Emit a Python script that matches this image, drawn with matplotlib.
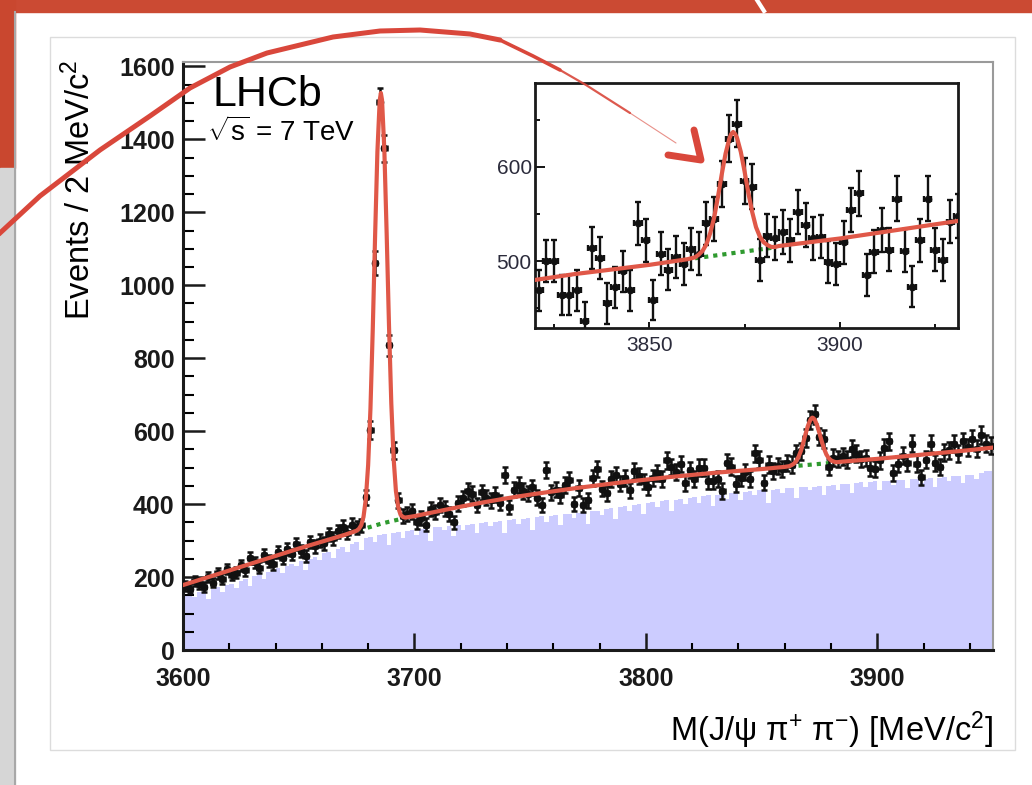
import numpy as np
import matplotlib.pyplot as plt
from matplotlib.lines import Line2D
from matplotlib.patches import Rectangle
from matplotlib.transforms import Affine2D

plt.rcParams['font.family'] = ['Liberation Sans', 'DejaVu Sans']
plt.rcParams['mathtext.fontset'] = 'custom'
plt.rcParams['mathtext.rm'] = 'Liberation Sans'
plt.rcParams['mathtext.it'] = 'Liberation Sans:italic'
plt.rcParams['mathtext.bf'] = 'Liberation Sans:bold'

# J/psi pi+ pi- mass, 2 MeV bins, centres 3601 ... 3949
mass = np.arange(3601, 3950, 2)
edges = np.arange(3600, 3951, 2)

events = [
    175, 168, 190, 180, 172, 200, 185, 210, 196, 222,
    205, 212, 232, 218, 252, 240, 226, 260, 244, 236,
    268, 252, 278, 262, 290, 272, 258, 296, 284, 300,
    292, 318, 306, 326, 338, 322, 344, 336, 342, 419,
    603, 1060, 1501, 1375, 836, 548, 410, 368, 372, 380,
    350, 362, 344, 386, 378, 398, 388, 372, 350, 402,
    416, 436, 428, 398, 432, 418, 410, 425, 404, 480,
    392, 440, 452, 436, 428, 446, 418, 398, 493, 432,
    440, 424, 452, 466, 400, 444, 398, 410, 472, 496,
    442, 430, 468, 480, 456, 472, 438, 490, 478, 462,
    446, 472, 484, 468, 520, 502, 488, 510, 458, 494,
    469, 500, 500, 464, 464, 469, 436, 514, 503, 455,
    472, 489, 469, 540, 522, 459, 508, 491, 504, 497,
    513, 508, 540, 545, 582, 630, 646, 585, 579, 501,
    527, 524, 531, 522, 552, 538, 524, 526, 499, 497,
    520, 554, 572, 485, 510, 533, 512, 566, 511, 473,
    522, 566, 512, 501, 542,
    548, 566, 540, 572, 556, 578, 552, 590, 566, 560,
]

# background sample (blue histogram)
bkg_hist = [
    150, 156, 146, 160, 164, 141, 168, 172, 158, 178,
    182, 170, 190, 196, 176, 202, 208, 194, 214, 220,
    226, 212, 230, 236, 229, 244, 218, 250, 256, 246,
    266, 270, 252, 278, 282, 270, 290, 296, 274, 306,
    310, 296, 314, 318, 288, 320, 324, 306, 326, 330,
    316, 332, 334, 300, 336, 338, 328, 340, 312, 342,
    328, 344, 346, 322, 348, 350, 340, 352, 354, 322,
    356, 358, 346, 360, 362, 330, 364, 366, 352, 368,
    370, 344, 372, 374, 362, 376, 378, 346, 380, 382,
    370, 386, 388, 360, 392, 394, 380, 398, 400, 372,
    404, 406, 392, 408, 410, 382, 412, 414, 400, 418,
    420, 402, 422, 424, 396, 426, 428, 414, 430, 432,
    410, 434, 436, 424, 438, 438, 404, 440, 442, 430,
    443, 444, 416, 446, 447, 438, 448, 449, 426, 450,
    452, 440, 454, 456, 430, 458, 460, 448, 461, 462,
    440, 463, 464, 452, 466, 467, 444, 468, 469, 458,
    470, 471, 446, 472, 474, 464, 476, 477, 458, 479,
    481, 468, 486, 490, 492,
]

# total fit curve
fit_x = [3600, 3610, 3620, 3630, 3640, 3650, 3660, 3670, 3675,
         3676, 3677, 3678, 3679, 3680, 3681, 3682, 3683, 3684, 3685, 3685.5,
         3686, 3687, 3688, 3689, 3690, 3691, 3692, 3693, 3694, 3695, 3696,
         3700, 3710, 3720, 3730, 3740, 3750, 3760, 3770, 3780, 3790, 3800,
         3810, 3820, 3830, 3840, 3850,
         3860, 3861, 3862, 3863, 3864, 3865, 3866, 3867, 3868, 3869, 3870,
         3871, 3871.5, 3872, 3872.5, 3873, 3874, 3875, 3876, 3877, 3878, 3879,
         3880, 3881, 3882, 3883, 3884,
         3890, 3900, 3910, 3920, 3930, 3940, 3950]
fit_y = [178, 198, 218, 238, 258, 278, 297, 316, 327,
         332, 342, 365, 414, 507, 662, 880, 1134, 1366, 1507, 1527,
         1508, 1371, 1142, 892, 677, 526, 436, 391, 371, 365, 363,
         367, 380, 393, 405, 416, 426, 435, 444, 452, 460, 467,
         474, 480, 486, 491, 496,
         502, 503, 504, 507, 511, 518, 530, 546, 568, 592, 614,
         630, 635, 637, 635, 631, 616, 595, 572, 552, 536, 526,
         520, 517, 515, 515, 516,
         519, 524, 530, 536, 542, 548, 555]

# background component under the two peaks
psi_bkg_x = [3676, 3686, 3696]
psi_bkg_y = [328, 347, 362]
x_bkg_x = [3862, 3882]
x_bkg_y = [503, 514]

fig = plt.figure(figsize=(10.32, 7.85), dpi=100)
px = Affine2D().scale(1 / 1032, -1 / 785).translate(0, 1) + fig.transFigure

# slide background around the figure
fig.add_artist(Rectangle((0, 0), 1032, 12, transform=px, color='#cb4a33', zorder=-5))
fig.add_artist(Rectangle((0, 0), 15, 168, transform=px, color='#c9472f', zorder=-5))
fig.add_artist(Rectangle((0, 168), 15, 617, transform=px, color='#d6d6d6', zorder=-5))
fig.add_artist(Line2D([15, 15], [12, 785], transform=px, color='#a8a8a8', lw=1.5, zorder=-4))
fig.add_artist(Line2D([757, 764], [0, 11], transform=px, color='white', lw=3, zorder=-4))
fig.add_artist(Rectangle((50, 37), 965, 713, transform=px, fill=False, ec='#dcdcdc', lw=1, zorder=-4))

# main plot
ax = fig.add_axes([183 / 1032, 1 - 650 / 785, 810 / 1032, 588 / 785])
ax.stairs(bkg_hist, edges, fill=True, color='#ccccff', lw=0, zorder=1)
ax.plot(psi_bkg_x, psi_bkg_y, color='#2f9a2f', ls=(0, (1, 1.2)), lw=3, zorder=3)
ax.plot(x_bkg_x, x_bkg_y, color='#2f9a2f', ls=(0, (1, 1.2)), lw=3, zorder=3)
ax.errorbar(mass, events, yerr=np.sqrt(events), xerr=1, fmt='o', ms=4.5, color='#111111',
            elinewidth=1.8, capsize=2, capthick=1.8, zorder=4)
ax.plot(fit_x, fit_y, color='#e05848', lw=3, zorder=5, solid_joinstyle='round')

ax.set_xlim(3600, 3950)
ax.set_ylim(0, 1612)
ax.set_xticks([3600, 3700, 3800, 3900], ['3600', '3700', '3800', '3900'], fontweight='bold')
ax.set_xticks(np.arange(3620, 3950, 20), minor=True)
ax.set_yticks(np.arange(0, 1601, 200), [str(v) for v in range(0, 1601, 200)], fontweight='bold')
ax.set_yticks(np.arange(0, 1601, 50), minor=True)
ax.tick_params(axis='y', which='major', direction='in', length=16, width=1.8, labelsize=18, pad=6)
ax.tick_params(axis='y', which='minor', direction='in', length=8, width=1.5)
ax.tick_params(axis='x', which='major', direction='in', length=12, width=1.8, labelsize=18, pad=12)
ax.tick_params(axis='x', which='minor', direction='in', length=5, width=1.5)
ax.tick_params(colors='#1a1a1a')
for s in ['left', 'bottom']:
    ax.spines[s].set_linewidth(2.2)
    ax.spines[s].set_color('#1a1a1a')
for s in ['top', 'right']:
    ax.spines[s].set_linewidth(1.5)
    ax.spines[s].set_color('#9a9a9a')

ax.text(-0.127, 1.0035, 'Events / 2 MeV/c$^{2}$', rotation=90, ha='center', va='top',
        fontsize=23.5, transform=ax.transAxes)
ax.text(1.0, -0.136, r'M(J/ψ π$^{+}$ π$^{-}$) [MeV/c$^{2}$]', ha='right', va='center',
        fontsize=23.5, transform=ax.transAxes)
ax.text(0.037, 0.925, 'LHCb', fontsize=31, va='baseline', transform=ax.transAxes)
ax.text(0.0296, 0.8656, r'$\sqrt{\mathrm{s}}$ = 7 TeV', fontsize=20, va='baseline', transform=ax.transAxes)

# inset around the X(3872)
ax2 = fig.add_axes([535 / 1032, 1 - 328 / 785, 423 / 1032, 245 / 785])
ax2.plot(x_bkg_x, x_bkg_y, color='#2f9a2f', ls=(0, (1, 1.2)), lw=3, zorder=3)
ax2.errorbar(mass, events, yerr=np.sqrt(events), xerr=1, fmt='o', ms=4.5, color='#111111',
             elinewidth=1.7, capsize=2.5, capthick=1.7, zorder=4)
ax2.plot(fit_x, fit_y, color='#e05848', lw=3, zorder=5, solid_joinstyle='round')
ax2.set_xlim(3820, 3931)
ax2.set_ylim(429, 689)
ax2.set_xticks([3850, 3900], ['3850', '3900'])
ax2.set_xticks([3825, 3875, 3925], minor=True)
ax2.set_yticks([500, 600], ['500', '600'])
ax2.set_yticks([450, 550, 650], minor=True)
ax2.tick_params(axis='y', which='major', direction='in', length=7, width=1.3, labelsize=15, pad=2.4)
ax2.tick_params(axis='y', which='minor', direction='in', length=3.6, width=1.3)
ax2.tick_params(axis='x', which='major', direction='in', length=4.5, width=1.3, labelsize=15, pad=5.5)
ax2.tick_params(axis='x', which='minor', direction='in', length=3, width=1.3)
ax2.tick_params(labelcolor='#2b2b3b')
for s in ax2.spines.values():
    s.set_linewidth(2)
    s.set_color('#1a1a1a')

# hand-drawn red arrow on the slide (pixel path)
arc_thick = [(-5, 238), (0, 233), (40, 196), (100, 150), (150, 116), (190, 88), (230, 67),
             (267, 53), (333, 37), (380, 31), (420, 30), (470, 34), (500, 40)]
arc_mid = [(500, 40), (533, 56), (560, 70)]
arc_thin = [(560, 70), (586, 85), (630, 113)]
arc_tail = [(630, 113), (676, 143)]
for pts, w, a in [(arc_thick, 3.6, 1), (arc_mid, 2.6, 1), (arc_thin, 1.6, 0.9), (arc_tail, 0.8, 0.6)]:
    fig.add_artist(Line2D([p[0] for p in pts], [p[1] for p in pts], transform=px,
                          color='#d9473b', lw=w, alpha=a, solid_capstyle='round', zorder=10))
head = [(668, 155), (701, 160), (694, 130)]
fig.add_artist(Line2D([p[0] for p in head], [p[1] for p in head], transform=px,
                      color='#d9473b', lw=5, solid_capstyle='round', solid_joinstyle='round', zorder=10))

fig.savefig('out.png', dpi=100)
